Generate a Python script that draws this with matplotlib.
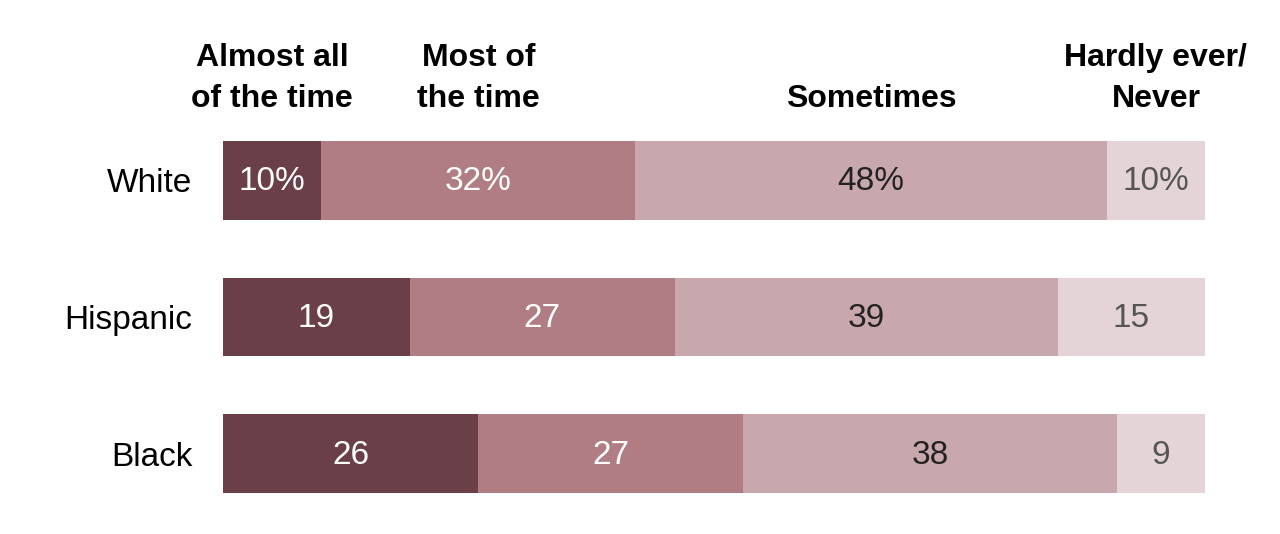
import matplotlib.pyplot as plt
import numpy as np

# data
groups = ['White', 'Hispanic', 'Black']
categories = ['Almost all\nof the time', 'Most of\nthe time', 'Sometimes', 'Hardly ever/\nNever']
almost_all = [10, 19, 26]
most = [32, 27, 27]
sometimes = [48, 39, 38]
hardly = [10, 15, 9]

series = [almost_all, most, sometimes, hardly]
colors = ['#6b3f48', '#b07d84', '#c9a8ad', '#e5d4d7']
text_colors = ['white', 'white', '#222222', '#555555']

plt.rcParams['font.family'] = ['Liberation Sans', 'DejaVu Sans']

fig = plt.figure(figsize=(12.8, 5.34), dpi=100)
ax = fig.add_axes([223 / 1280, 1 - 493 / 534, 982 / 1280, 352 / 534])

y = np.arange(len(groups))
bar_h = 0.575
left = np.zeros(len(groups))
for i, vals in enumerate(series):
    ax.barh(y, vals, left=left, height=bar_h, color=colors[i], edgecolor='none')
    for j, v in enumerate(vals):
        lab = f'{v}%' if j == 0 else f'{v}'
        ax.text(left[j] + v / 2, y[j] + 0.01, lab, ha='center', va='center',
                color=text_colors[i], fontsize=24)
    left = left + np.array(vals)

ax.set_xlim(0, 100)
ax.set_ylim(len(groups) - 1 + bar_h / 2, -bar_h / 2)
ax.set_yticks(y)
ax.set_yticklabels(groups, fontsize=24)
ax.tick_params(axis='y', length=0, pad=22)
ax.set_xticks([])
for s in ax.spines.values():
    s.set_visible(False)

# column headers over the first row's segments
starts = np.cumsum([0] + [s[0] for s in series[:-1]])
for i, cat in enumerate(categories):
    cx = starts[i] + series[i][0] / 2
    ax.text(cx, -0.536, cat, ha='center', va='baseline', fontsize=23,
            fontweight='bold', linespacing=1.5)

plt.savefig('out.png', dpi=100)
